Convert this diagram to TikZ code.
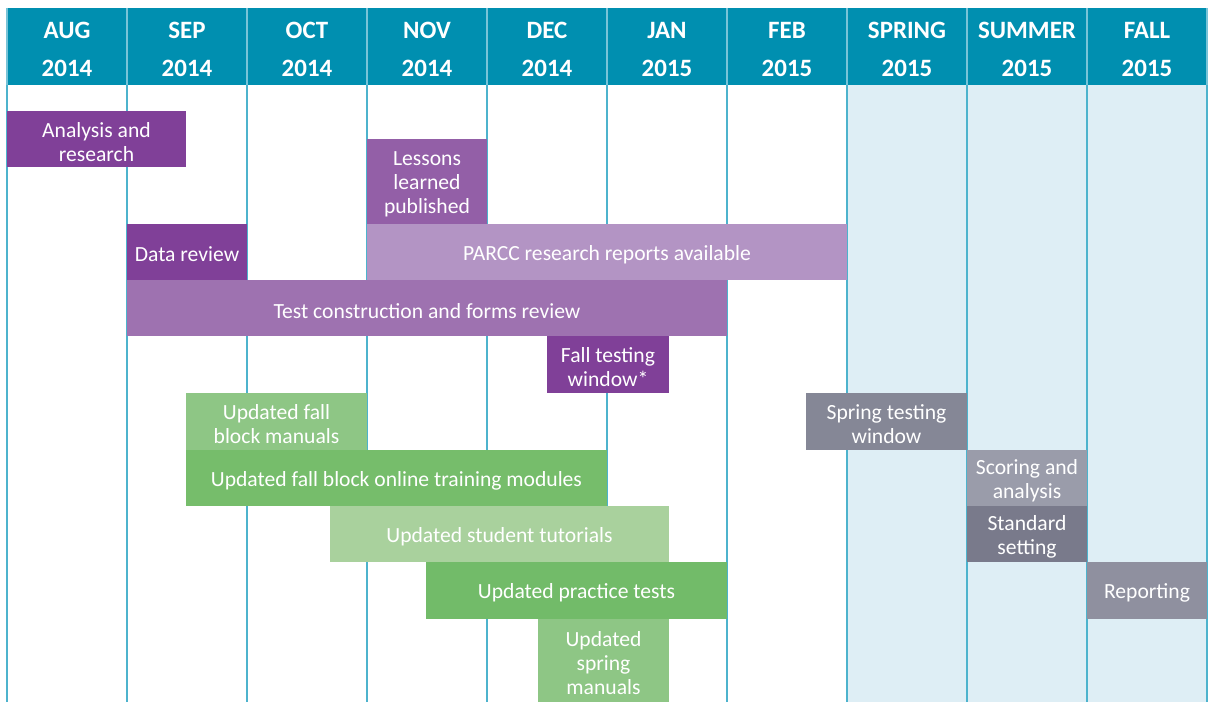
\documentclass[tikz,border=0pt]{standalone}
\usepackage{fontspec}
\setmainfont{Carlito}
\usetikzlibrary{fit}

\begin{document}
\begin{tikzpicture}[x=0.02cm, y=-0.02cm,
    bar/.style={inner sep=0pt, draw=none},
    bartext/.style={inner sep=0pt, text=white, align=center, yshift=-1.5pt,
      font=\fontsize{12.3}{13.7}\selectfont},
    month/.style={text=white, align=center,
      font=\bfseries\fontsize{14.2}{21.6}\selectfont}]
    % colours
    \definecolor{headTeal}{RGB}{0,143,176}
    \definecolor{headLine}{RGB}{120,196,216}
    \definecolor{gridBlue}{RGB}{77,179,205}
    \definecolor{paleSky}{RGB}{222,238,245}
    \definecolor{purpleDark}{RGB}{128,64,152}
    \definecolor{purpleMid}{RGB}{147,95,167}
    \definecolor{purpleSoft}{RGB}{158,114,176}
    \definecolor{purpleLight}{RGB}{179,148,196}
    \definecolor{greenDark}{RGB}{114,187,105}
    \definecolor{greenMid}{RGB}{118,189,107}
    \definecolor{greenSoft}{RGB}{142,198,133}
    \definecolor{greenLight}{RGB}{169,209,157}
    \definecolor{grayMid}{RGB}{133,135,150}
    \definecolor{grayLight}{RGB}{154,156,170}
    \definecolor{grayDark}{RGB}{121,122,139}
    \definecolor{grayRep}{RGB}{143,144,159}

    \useasboundingbox (0,0) rectangle (1208,702);

    % seasons background
    \fill[paleSky] (847,85) rectangle (1207,702);
    % header band
    \fill[headTeal] (7,8) rectangle (1207,85);

    % column lines
    \foreach \x in {7,127,...,1207} {
        \draw[gridBlue, line width=1.2pt] (\x,85) -- (\x,702);
        \draw[headLine, line width=1pt] (\x,8) -- (\x,85);
    }

    % column titles
    \foreach \m/\y [count=\i] in {AUG/2014,SEP/2014,OCT/2014,NOV/2014,DEC/2014,
        JAN/2015,FEB/2015,SPRING/2015,SUMMER/2015,FALL/2015}
        \node[month] (m\i) at ({120*\i-53},49.5) {\m\\\y};

    % purple tasks
    \node[bar, fill=purpleDark, fit={(7,111) (186,167)},
        label={[bartext]center:{Analysis and\\research}}] (analysis) {};
    \node[bar, fill=purpleMid, fit={(367,139) (487,224)},
        label={[bartext]center:{Lessons\\learned\\published}}] (lessons) {};
    \node[bar, fill=purpleDark, fit={(127,224) (247,280)},
        label={[bartext]center:{Data review}}] (datareview) {};
    \node[bar, fill=purpleLight, fit={(367,224) (847,280)},
        label={[bartext]center:{PARCC research reports available}}] (parcc) {};
    \node[bar, fill=purpleSoft, fit={(127,280) (727,336)},
        label={[bartext]center:{Test construction and forms review}}] (testcons) {};
    \node[bar, fill=purpleDark, fit={(547,336) (669,393)},
        label={[bartext]center:{Fall testing\\window*}}] (falltest) {};

    % green tasks
    \node[bar, fill=greenSoft, fit={(186,393) (367,450)},
        label={[bartext]center:{Updated fall\\block manuals}}] (fallman) {};
    \node[bar, fill=greenMid, fit={(186,450) (607,506)},
        label={[bartext]center:{Updated fall block online training modules}}] (fallonline) {};
    \node[bar, fill=greenLight, fit={(330,506) (669,562)},
        label={[bartext]center:{Updated student tutorials}}] (tutorials) {};
    \node[bar, fill=greenDark, fit={(426,562) (727,619)},
        label={[bartext]center:{Updated practice tests}}] (practice) {};
    \node[bar, fill=greenSoft, fit={(538,619) (669,702)},
        label={[bartext]center:{Updated\\spring\\manuals}}] (springman) {};

    % gray tasks
    \node[bar, fill=grayMid, fit={(806,393) (967,450)},
        label={[bartext]center:{Spring testing\\window}}] (springtest) {};
    \node[bar, fill=grayLight, fit={(967,450) (1087,506)},
        label={[bartext]center:{Scoring and\\analysis}}] (scoring) {};
    \node[bar, fill=grayDark, fit={(967,506) (1087,562)},
        label={[bartext]center:{Standard\\setting}}] (standard) {};
    \node[bar, fill=grayRep, fit={(1087,562) (1207,619)},
        label={[bartext]center:{Reporting}}] (reporting) {};
\end{tikzpicture}
\end{document}
